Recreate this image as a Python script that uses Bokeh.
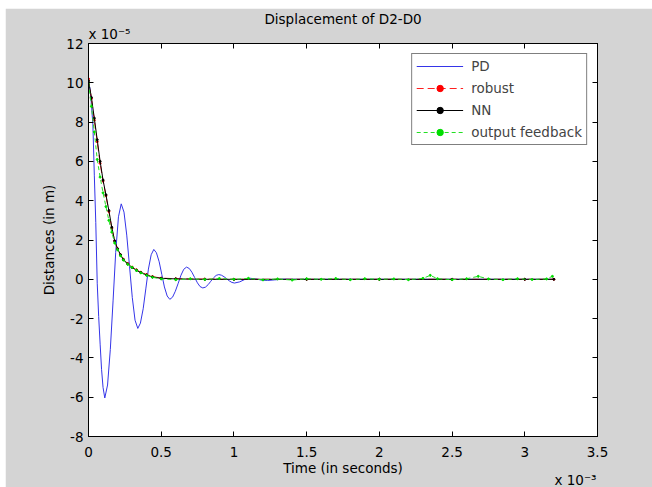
from bokeh.plotting import figure
from bokeh.models import Range1d, FixedTicker, LinearAxis, Legend, LegendItem, Title
from bokeh.embed import file_html
from bokeh.resources import INLINE

# ---- data (time in 1e-3 s, displacement in 1e-5 m) ----
pd_t = [0.000, 0.010, 0.020, 0.030, 0.040, 0.050, 0.060, 0.070, 0.080, 0.090, 0.100, 0.112,
        0.131, 0.150, 0.169, 0.187, 0.206, 0.225,
        0.244, 0.263, 0.282, 0.301, 0.320, 0.339,
        0.357, 0.376, 0.394, 0.412, 0.431, 0.449,
        0.467, 0.486, 0.504, 0.522, 0.541, 0.559,
        0.578, 0.597, 0.617, 0.636, 0.655, 0.674,
        0.693, 0.711, 0.730, 0.749, 0.767, 0.786,
        0.804, 0.823, 0.841, 0.859, 0.878, 0.896,
        0.914, 0.932, 0.950, 0.968, 0.986, 1.004,
        1.040, 1.077, 1.114, 1.150, 1.190, 1.230, 1.280, 1.340, 1.400, 1.500, 1.700, 2.000, 2.400, 2.800, 3.200]
pd_v = [10.1, 9.7, 8.9, 7.9, 5.3, 2.9, -0.2, -1.9, -3.3, -4.6, -5.5, -6.04,
        -5.38, -3.57, -1.10, 1.37, 3.18, 3.84,
        3.42, 2.25, 0.67, -0.92, -2.08, -2.50,
        -2.23, -1.50, -0.49, 0.52, 1.25, 1.52,
        1.35, 0.89, 0.25, -0.39, -0.85, -1.02,
        -0.91, -0.61, -0.20, 0.21, 0.51, 0.62,
        0.55, 0.36, 0.09, -0.18, -0.37, -0.44,
        -0.40, -0.27, -0.10, 0.07, 0.20, 0.24,
        0.21, 0.13, 0.03, -0.08, -0.16, -0.19,
        -0.13, 0.00, 0.05, 0.02, -0.04, -0.06, -0.03, 0.01, 0.0, 0.0, 0.0, 0.0, 0.0, 0.0, 0.0]

ctl_t = [0.00, 0.02, 0.04, 0.06, 0.08, 0.10, 0.12, 0.14, 0.16, 0.18, 0.20, 0.22, 0.24, 0.27,
         0.30, 0.33, 0.36, 0.40, 0.44, 0.50, 0.60, 0.80, 1.00, 1.50, 2.00, 2.50, 3.00, 3.20]
robust_v = [10.2, 9.2, 8.1, 7.0, 5.9, 5.0, 4.25, 3.45, 2.6, 1.95, 1.55, 1.25, 1.02, 0.80,
            0.62, 0.48, 0.36, 0.24, 0.14, 0.06, 0.03, 0.01, 0.0, 0.0, 0.0, 0.0, 0.0, 0.0]
nn_v = [10.1, 9.25, 8.2, 7.1, 6.0, 5.05, 4.3, 3.5, 2.65, 1.95, 1.55, 1.25, 1.00, 0.78,
        0.60, 0.46, 0.34, 0.22, 0.12, 0.05, 0.02, 0.0, 0.0, 0.0, 0.0, 0.0, 0.0, 0.0]

of_t = [0.00, 0.02, 0.04, 0.06, 0.08, 0.10, 0.12, 0.14, 0.16, 0.18, 0.20, 0.22, 0.24, 0.27,
        0.30, 0.33, 0.36, 0.40, 0.44, 0.50, 0.60, 0.70, 0.80, 0.90, 1.00, 1.10, 1.20, 1.30,
        1.40, 1.50, 1.60, 1.70, 1.80, 1.90, 2.00, 2.10, 2.20, 2.30, 2.35, 2.40, 2.50, 2.60,
        2.68, 2.75, 2.85, 2.95, 3.05, 3.15, 3.19]
of_v = [10.0, 8.8, 7.5, 6.1, 5.2, 4.4, 3.7, 3.0, 2.4, 1.85, 1.5, 1.2, 0.98, 0.76,
        0.60, 0.45, 0.33, 0.20, 0.10, 0.02, -0.02, 0.03, -0.01, 0.04, 0.0, 0.05, -0.03, 0.02,
        -0.04, 0.03, 0.0, 0.04, -0.02, 0.03, 0.0, 0.02, -0.02, 0.05, 0.20, 0.03, -0.02, 0.03,
        0.15, 0.02, -0.02, 0.03, -0.01, 0.02, 0.15]

x_ticks = [0.0, 0.5, 1.0, 1.5, 2.0, 2.5, 3.0, 3.5]
x_tick_labels = ["0", "0.5", "1", "1.5", "2", "2.5", "3", "3.5"]
y_ticks = [-8.0, -6.0, -4.0, -2.0, 0.0, 2.0, 4.0, 6.0, 8.0, 10.0, 12.0]
y_tick_labels = ["-8", "-6", "-4", "-2", "0", "2", "4", "6", "8", "10", "12"]

title_text = "Displacement of D2-D0"
x_label = "Time (in seconds)"
y_label = "Distances (in m)"
x_mult = "x 10\u207b\u00b3"
y_mult = "x 10\u207b\u2075"

FONT = "DejaVu Sans"
FS = "13.5px"

p = figure(width=647, height=479, x_range=Range1d(0, 3.5), y_range=Range1d(-8, 12),
           output_backend="svg", toolbar_location=None,
           min_border_left=83, min_border_right=55, min_border_top=35, min_border_bottom=51,
           background_fill_color="white", border_fill_color="#d4d4d4",
           outline_line_color="black")
p.margin = (8, 0, 0, 5)
p.xgrid.visible = False
p.ygrid.visible = False


def style_axis(ax, ticks, labels, show_labels=True):
    ax.ticker = FixedTicker(ticks=ticks)
    if show_labels:
        ax.major_label_overrides = {t: l for t, l in zip(ticks, labels)}
    else:
        ax.major_label_overrides = {t: "" for t in ticks}
    ax.major_tick_in = 5
    ax.major_tick_out = 0
    ax.minor_tick_line_color = None
    ax.axis_line_color = "black"
    ax.major_tick_line_color = "black"
    ax.major_label_text_font = FONT
    ax.major_label_text_font_size = FS if show_labels else "0px"
    ax.major_label_text_color = "black"
    ax.axis_label_text_font = FONT
    ax.axis_label_text_font_size = FS
    ax.axis_label_text_font_style = "normal"
    ax.axis_label_text_color = "black"


style_axis(p.xaxis[0], x_ticks, x_tick_labels)
style_axis(p.yaxis[0], y_ticks, y_tick_labels)
p.xaxis[0].axis_label = x_label
p.yaxis[0].axis_label = y_label
p.xaxis[0].major_label_standoff = 10
p.xaxis[0].axis_label_standoff = 0
p.yaxis[0].major_label_standoff = 5
p.yaxis[0].axis_label_standoff = 6

top_ax = LinearAxis()
right_ax = LinearAxis()
style_axis(top_ax, x_ticks, x_tick_labels, show_labels=False)
style_axis(right_ax, y_ticks, y_tick_labels, show_labels=False)
top_ax.major_label_standoff = 0
right_ax.major_label_standoff = 0
p.add_layout(top_ax, "above")
p.add_layout(right_ax, "right")

# multiplier texts
ym = Title(text=y_mult, align="left", offset=0, standoff=4, text_font=FONT,
           text_font_size=FS, text_font_style="normal", text_color="black")
p.add_layout(ym, "above")
xm = Title(text=x_mult, align="right", offset=1, standoff=-18, text_font=FONT,
           text_font_size=FS, text_font_style="normal", text_color="black")
p.add_layout(xm, "below")

p.title.text = title_text
p.title.align = "center"
p.title.standoff = -10
p.title.text_font = FONT
p.title.text_font_size = FS
p.title.text_font_style = "normal"
p.title.text_color = "black"

pd_line = p.line(pd_t, pd_v, line_color="#3535e8", line_width=1)
r_line = p.line(ctl_t, robust_v, line_color="#ff2020", line_width=1, line_dash="7 4")
r_dot = p.scatter(ctl_t, robust_v, size=2, color="#ff0000", marker="circle")
n_line = p.line(ctl_t, nn_v, line_color="black", line_width=1)
n_dot = p.scatter(ctl_t, nn_v, size=2, color="black", marker="circle")
o_line = p.line(of_t, of_v, line_color="#22e022", line_width=1, line_dash="4 3")
o_dot = p.scatter(of_t, of_v, size=2, color="#00dd00", marker="circle")

legend = Legend(items=[
    LegendItem(label="PD", renderers=[pd_line]),
    LegendItem(label="robust", renderers=[r_line, r_dot]),
    LegendItem(label="NN", renderers=[n_line, n_dot]),
    LegendItem(label="output feedback", renderers=[o_line, o_dot]),
], location="top_right")
legend.border_line_color = "black"
legend.border_line_width = 1
legend.background_fill_color = "white"
legend.background_fill_alpha = 1
legend.label_text_font = FONT
legend.label_text_font_size = FS
legend.glyph_width = 47
legend.glyph_height = 16
legend.label_height = 16
legend.spacing = 6
legend.padding = 4
legend.margin = 10
legend.label_standoff = 8
p.add_layout(legend)

open("out.html", "w").write(file_html(p, INLINE))
